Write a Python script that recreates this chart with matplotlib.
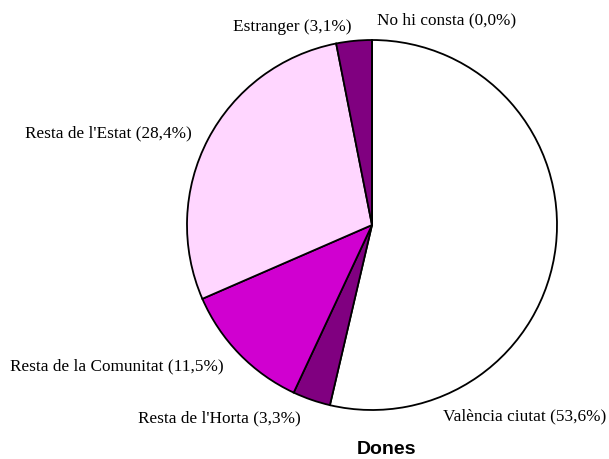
import matplotlib.pyplot as plt

labels = ["València ciutat (53,6%)", "Resta de l'Horta (3,3%)",
          "Resta de la Comunitat (11,5%)", "Resta de l'Estat (28,4%)",
          "Estranger (3,1%)", "No hi consta (0,0%)"]
values = [53.6, 3.3, 11.5, 28.4, 3.1, 0.0]
colors = ['#FFFFFF', '#800080', '#D000D0', '#FFD6FF', '#800080', '#FFFFFF']

# label anchor points in pixels (left x, centre y)
label_pos = [(443, 416), (138, 418), (10, 366), (25, 133), (233, 27), (377, 20)]

W, H = 609, 459
fig = plt.figure(figsize=(W / 100, H / 100), dpi=100)
plt.rcParams['font.family'] = 'Liberation Serif'

cx, cy, r = 372, 225, 185
ax = fig.add_axes([(cx - r) / W, (H - cy - r) / H, 2 * r / W, 2 * r / H])
ax.pie(values, colors=colors, startangle=90, counterclock=False,
       normalize=True,
       wedgeprops=dict(edgecolor='black', linewidth=1.3))
ax.set_xlim(-1, 1)
ax.set_ylim(-1, 1)
ax.axis('off')

for lab, (x, y) in zip(labels, label_pos):
    fig.text(x / W, 1 - y / H, lab, ha='left', va='center', fontsize=12.4)

fig.text(387 / W, 1 - 449 / H, 'Dones', ha='center', va='center',
         fontsize=14, fontweight='bold', family='Liberation Sans')

fig.savefig('out.png', dpi=100, facecolor='white')
